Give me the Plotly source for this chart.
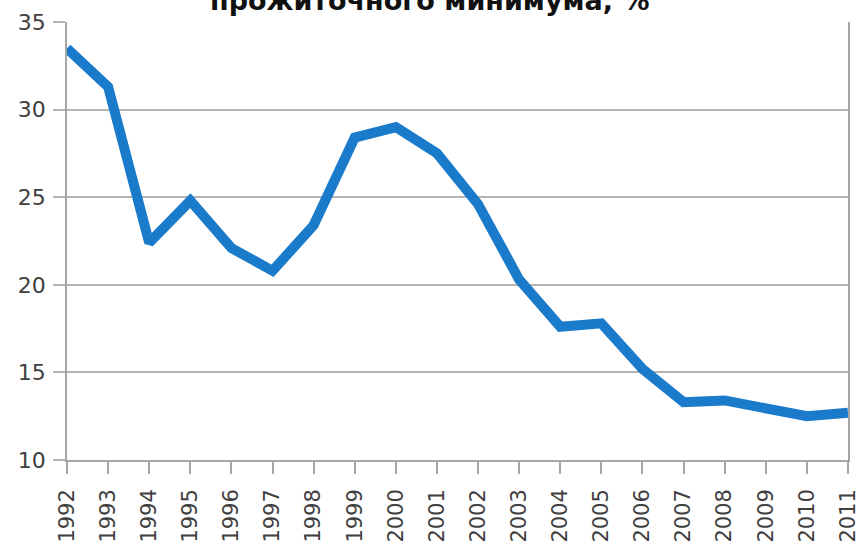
import plotly.graph_objects as go

years = list(range(1992, 2012))
poverty_share = [33.5, 31.3, 22.4, 24.8, 22.1, 20.8, 23.4, 28.4, 29.0, 27.5,
                 24.6, 20.3, 17.6, 17.8, 15.2, 13.3, 13.4, 13.0, 12.5, 12.7]
title_text = "прожиточного минимума, %"
y_ticks = [10, 15, 20, 25, 30, 35]

fig = go.Figure()
fig.add_trace(go.Scatter(
    x=years, y=poverty_share, mode="lines",
    line=dict(color="#1a7bcb", width=10),
    hoverinfo="x+y", showlegend=False,
))

fig.add_annotation(
    text="<b>" + title_text + "</b>", xref="paper", yref="paper",
    x=0.465, y=1.0, yanchor="bottom", yshift=4, showarrow=False,
    font=dict(family="DejaVu Sans, sans-serif", size=27, color="#111111"),
)

fig.update_layout(
    width=863, height=546,
    margin=dict(l=67, r=15, t=22, b=86, autoexpand=False),
    paper_bgcolor="white", plot_bgcolor="white",
    font=dict(family="DejaVu Sans, sans-serif", color="#404040"),
)
fig.update_xaxes(
    range=[1992, 2011], tickmode="array", tickvals=years,
    ticktext=[str(y) for y in years], tickangle=-90,
    tickfont=dict(size=21, color="#404040"),
    showgrid=False, showline=True, linecolor="#a6a6a6", linewidth=1.5,
    ticks="outside", ticklen=12, tickcolor="#a6a6a6", tickwidth=1.5,
    zeroline=False, mirror=False, automargin=False, ticklabelstandoff=7,
)
fig.update_yaxes(
    range=[10, 35], tickmode="array", tickvals=y_ticks,
    tickfont=dict(size=22, color="#404040"),
    showgrid=True, gridcolor="#b3b3b3", gridwidth=1.5,
    showline=True, linecolor="#a6a6a6", linewidth=1.5, mirror=True,
    ticks="outside", ticklen=12, tickcolor="#b3b3b3", tickwidth=1.5,
    zeroline=False, automargin=False, ticklabelstandoff=3,
)

fig.write_html(
    "out.html",
    config={"displayModeBar": False},
    post_script="document.body.style.margin='0';document.body.style.overflow='hidden';",
)
